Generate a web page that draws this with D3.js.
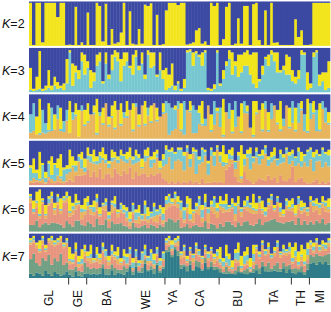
<!DOCTYPE html>
<html><head><meta charset="utf-8">
<script src="https://cdn.jsdelivr.net/npm/d3@7"></script>
<style>body{margin:0;background:#fff}svg{display:block}text{font-family:"Liberation Sans",Arial,Helvetica,sans-serif;fill:#111}</style>
</head><body>
<script>
// ---- data (percent membership per individual, 100 individuals) ----
const groups = ["GL","GE","BA","WE","YA","CA","BU","TA","TH","MI"];
const groupSizes = [13,6,13,13,5,13,12,12,6,7];
const kLabels = [2,3,4,5,6,7];
const clusterColors = {blue:"#3b49a2",yellow:"#f3e51d",cyan:"#77c7d1",orange:"#e8b45e",pink:"#e8957f",green:"#72a084",teal:"#2e7c89"};

const k2_yellow = [97,2,97,97,8,97,97,97,97,65,97,97,2, 3,2,88,2,8, 2,75,2,2,97,90,10,95,2,38,5,8,30, 97,2,78,5,3,38,5,93,90,96,2,70,2,4, 80,97,97,97,92, 97,97,3,5,8,35,40,5,10,2,97,90,97, 2,15,88,97,2,5,62,5,90,90,2,94, 97,13,2,80,2,97,7,8,2,2,2,2, 2,60,20,35,2,2, 3,97,97,97,97,97,97];

const k3_cyan = [5,3,5,8,3,5,10,5,15,8,10,5,20, 90,15,45,30,70,40, 55,10,25,60,70,20,65,30,50,80,70,25,60, 70,55,40,80,50,65,30,85,55,60,35,50,30, 5,10,15,5,20, 3,10,90,92,60,88,80,60,90,5,3,8,90, 15,30,60,75,40,60,35,45,60,60,40,20, 10,25,40,75,60,85,70,45,45,50,40,40, 25,20,30,85,85,5, 10,80,90,15,25,5,10];
const k3_yellow = [50,5,30,85,5,10,40,10,20,15,5,15,55, 5,50,15,20,20,45, 15,40,20,25,20,5,25,10,35,15,20,50,30, 20,5,45,15,10,25,10,10,35,30,5,40,20, 50,30,50,10,5, 5,20,5,5,30,5,5,30,5,5,5,10,5, 5,20,10,20,50,10,50,40,30,35,45,70, 80,5,20,5,25,10,20,45,5,10,45,40, 25,15,20,10,5,40, 10,10,5,25,20,40,60];

const k4_blue = [45,20,50,10,35,65,20,30,45,25,30,60,35, 15,40,20,35,25,35, 20,45,25,10,40,30,20,50,25,15,35,20,40, 15,35,20,20,45,25,15,30,25,20,30,50,20, 15,20,30,25,15, 20,15,35,15,25,35,25,15,55,25,45,15,30, 30,10,40,20,35,15,50,20,15,25,75,15, 15,35,20,15,40,20,25,35,15,55,25,30, 15,30,20,15,45,10, 20,15,35,20,15,30,40];
const k4_orange = [15,20,10,10,15,10,20,20,25,50,20,15,50, 15,50,60,5,75,35, 45,60,70,10,60,40,95,30,60,25,80,35,55, 55,75,20,85,35,90,35,60,45,95,50,60,70, 65,10,20,25,75, 20,10,80,70,15,15,40,35,35,90,20,35,75, 30,5,70,50,15,30,60,15,65,65,20,5, 65,80,20,75,20,50,95,40,20,35,90,30, 40,20,40,75,20,15, 50,65,20,20,75,45,40];
const k4_cyan = [45,70,0,5,55,20,5,60,0,35,5,25,30, 0,20,5,0,15,5, 5,0,5,5,10,5,0,5,5,5,0,5,15, 5,0,5,10,5,0,5,20,5,0,5,0,5, 30,80,60,50,20, 5,85,0,5,75,60,30,5,20,0,5,60,5, 50,5,0,40,5,65,0,5,30,5,0,5, 5,0,5,20,5,40,0,5,5,20,0,5, 55,5,50,5,45,5, 40,5,55,5,20,40,5];
const k4_yellow = [0,0,40,85,0,0,75,0,40,0,55,0,0, 80,0,30,60,0,40, 50,0,20,85,0,45,0,20,30,70,0,55,0, 40,0,70,0,30,0,60,0,45,0,35,0,25, 0,0,0,10,0, 70,0,0,25,0,0,20,60,0,0,45,0,10, 0,88,0,0,60,0,0,75,0,15,0,85, 30,0,70,0,50,0,0,35,75,0,0,55, 0,60,0,20,0,80, 0,30,0,70,0,0,30];

const k5_blue = [55,40,65,25,50,70,45,35,50,40,30,60,55, 20,35,45,30,25,40, 15,30,20,35,25,15,30,45,20,25,35,20,30, 25,15,35,20,30,40,20,15,35,25,20,45,30, 10,20,15,25,15, 15,25,10,30,15,20,35,15,20,45,15,25,10, 25,10,30,20,15,45,25,10,30,20,15,35, 15,30,20,10,35,25,15,40,20,30,15,25, 20,35,15,25,30,20, 15,25,20,30,15,25,20];
const k5_pink = [5,5,10,5,5,5,10,5,5,10,5,5,10, 15,10,30,20,25,35, 40,20,35,25,45,15,30,40,20,45,35,25,40, 30,45,20,35,25,40,30,20,35,25,30,45,20, 10,5,10,5,10, 5,10,5,15,5,10,5,15,5,10,5,10,5, 10,5,45,50,55,30,10,5,40,15,10,5, 10,20,15,10,30,15,20,10,25,15,10,20, 50,10,15,20,10,5, 5,10,15,5,10,5,10];
const k5_orange = [5,10,5,5,10,5,5,10,5,15,10,5,20, 20,40,15,30,20,10, 25,35,20,40,15,45,30,20,40,25,30,45,25, 30,20,45,25,40,20,30,45,20,35,40,15,35, 40,70,30,60,55, 55,30,70,40,75,20,60,40,70,30,65,45,80, 55,40,15,20,10,30,60,10,20,55,30,70, 60,40,55,65,30,50,45,60,30,55,70,40, 15,50,40,30,60,45, 60,30,45,70,35,60,40];
const k5_cyan = [30,10,20,5,35,15,25,10,40,20,5,30,15, 10,5,20,10,25,15, 10,15,5,10,20,5,10,15,10,5,10,10,15, 10,5,15,20,10,5,15,5,25,10,10,5,20, 35,15,45,20,25, 30,40,10,25,5,60,15,30,10,45,15,30,5, 20,10,5,15,10,25,15,5,20,10,40,15, 15,25,10,15,20,15,10,20,25,15,10,25, 20,25,30,15,20,40, 25,40,20,15,45,25,30];
const k5_yellow = [5,30,10,60,5,20,5,45,5,25,50,5,10, 50,25,15,5,20,30, 20,5,30,15,10,25,15,10,20,15,10,15,5, 20,25,10,15,10,30,15,20,10,20,10,25,15, 10,5,10,5,5, 5,10,5,15,10,5,10,5,5,10,5,10,5, 10,40,25,10,20,5,10,70,15,10,15,5, 10,5,15,5,10,15,20,5,10,10,5,10, 10,5,10,25,5,5, 5,15,10,5,5,5,15];

const k6_blue = [15,30,10,5,25,40,20,10,35,15,25,20,10, 20,35,15,30,40,25, 20,40,30,15,45,35,25,55,30,20,50,35,40, 45,55,35,50,40,60,30,45,55,35,50,40,45, 20,15,25,10,20, 30,45,20,25,50,35,20,40,15,45,30,20,35, 20,30,15,40,25,35,20,45,30,20,35,15, 35,20,30,45,25,15,40,20,35,50,25,30, 25,40,20,30,35,45, 20,30,25,35,20,30,25];
const k6_green = [15,20,25,10,20,30,15,20,25,15,20,10,25, 20,15,25,30,20,15, 25,20,15,30,25,20,35,15,25,20,30,25,20, 15,10,20,15,10,20,15,10,25,15,10,20,15, 25,30,35,20,30, 10,15,20,10,15,20,10,15,25,10,20,15,10, 20,15,25,30,20,15,25,20,30,25,20,15, 25,30,20,35,25,30,40,25,30,35,20,30, 30,25,35,20,30,25, 25,20,30,25,35,20,25];
const k6_pink = [50,35,30,20,55,15,40,45,25,35,30,60,45, 20,35,25,40,15,30, 30,25,35,20,30,45,25,30,20,35,25,30,40, 15,10,20,15,10,20,10,15,20,10,15,25,10, 30,25,40,35,30, 25,15,30,20,10,35,25,15,30,20,35,25,30, 35,40,25,30,45,20,35,30,40,25,35,30, 30,25,35,20,30,35,25,40,20,30,25,35, 25,30,20,35,25,30, 40,35,30,25,30,35,30];
const k6_orange = [10,5,10,5,5,10,5,10,15,5,10,5,10, 10,15,10,5,20,10, 10,15,10,20,5,10,15,10,20,10,15,10,5, 10,15,5,10,20,5,15,10,5,15,20,5,10, 15,10,5,15,10, 20,10,15,5,25,10,20,15,5,30,10,15,20, 10,15,5,10,5,20,10,15,5,10,15,10, 10,15,10,5,10,15,5,10,15,5,10,5, 10,5,15,10,10,15, 10,15,10,20,10,15,10];
const k6_cyan = [5,10,5,5,5,5,10,5,5,10,5,5,5, 5,10,5,5,10,5, 10,5,15,10,5,5,10,15,5,10,5,15,10, 20,10,15,25,10,15,20,10,15,25,10,15,20, 10,15,5,10,5, 20,30,10,15,5,10,15,25,10,15,5,20,10, 5,10,15,5,10,25,5,10,5,15,10,5, 5,10,5,15,5,10,5,10,15,5,10,5, 10,5,15,10,5,10, 5,10,5,10,5,10,5];
const k6_yellow = [5,25,20,55,5,30,5,10,15,5,30,5,10, 40,10,20,5,10,30, 15,5,20,10,25,5,10,15,5,20,10,5,15, 10,25,5,10,20,5,10,25,5,10,5,10,20, 10,5,10,5,15, 5,10,20,45,5,10,5,15,20,5,10,5,15, 20,10,25,5,15,10,20,5,15,10,5,35, 20,5,25,15,10,5,10,5,15,20,5,20, 15,30,5,20,10,5, 10,5,15,5,15,5,25];

const k7_blue = [10,5,20,15,5,25,10,5,15,10,5,20,10, 30,45,20,50,35,25, 40,25,55,30,45,20,35,50,25,40,30,55,35, 45,30,55,35,60,40,25,50,35,45,30,55,40, 10,5,15,10,5, 40,25,50,30,45,20,35,50,25,40,30,45,35, 30,55,25,45,60,35,20,50,40,30,55,25, 25,40,15,35,20,45,30,15,40,25,35,20, 30,20,40,25,35,20, 15,20,10,25,15,20,10];
const k7_teal = [10,5,15,10,5,20,10,5,15,10,5,10,15, 10,5,15,10,5,10, 15,10,20,10,15,25,10,15,20,10,15,20,10, 20,25,15,30,20,15,35,20,25,15,30,20,25, 55,60,50,65,45, 25,30,20,35,25,20,30,25,35,20,30,25,20, 15,20,10,15,20,10,15,20,15,10,20,15, 20,15,25,20,15,25,20,15,20,25,15,20, 15,10,20,15,10,20, 35,40,30,45,35,40,30];
const k7_green = [35,50,25,20,40,30,45,25,35,30,50,25,20, 15,25,10,20,15,25, 20,15,25,15,20,10,15,25,15,20,10,15,25, 10,5,15,10,5,15,10,5,10,15,5,10,5, 5,10,5,5,10, 10,5,15,10,5,10,15,5,10,5,15,10,5, 10,5,15,10,5,10,15,5,10,15,5,10, 15,20,10,15,20,10,15,20,10,15,20,10, 10,15,10,15,10,15, 20,15,25,15,20,15,25];
const k7_pink = [35,25,40,30,30,25,30,45,30,40,25,45,35, 15,20,25,15,20,15, 20,15,25,20,15,30,25,15,20,25,15,20,15, 10,15,10,5,15,10,5,15,10,5,15,10,15, 10,5,10,5,10, 15,20,10,15,25,10,15,20,10,15,20,10,15, 10,15,5,10,15,20,10,5,15,10,5,10, 30,35,25,30,20,35,25,30,35,20,30,25, 15,20,10,15,20,10, 15,10,15,10,15,10,15];
const k7_orange = [5,5,10,5,10,5,5,10,5,5,10,5,10, 10,5,10,15,5,10, 10,15,5,10,15,5,10,15,5,10,15,10,5, 5,10,5,10,5,10,5,10,5,10,5,10,5, 5,10,5,5,10, 10,15,5,10,15,10,5,15,10,5,10,15,10, 5,10,5,10,5,10,5,10,5,10,5,10, 10,5,10,5,10,5,10,5,10,5,10,5, 5,10,5,10,5,10, 10,5,10,5,10,5,10];
const k7_cyan = [5,5,0,5,5,5,0,5,5,5,0,5,5, 5,10,5,10,15,5, 5,10,5,10,5,10,15,5,10,5,10,5,10, 20,10,25,15,10,20,15,10,25,15,10,20,15, 5,5,10,5,5, 5,10,5,5,10,5,10,5,5,10,5,5,10, 10,20,15,25,10,15,20,10,25,15,10,20, 5,10,5,10,5,10,5,10,5,10,5,10, 10,15,10,5,10,15, 5,10,5,10,5,10,5];
const k7_yellow = [5,5,5,20,5,10,5,5,5,5,5,5,5, 35,20,15,25,30,10, 15,25,10,20,15,10,5,20,15,10,25,15,20, 10,5,20,5,10,5,10,5,10,20,5,10,5, 5,5,10,5,5, 5,5,10,5,5,5,5,5,5,5,5,10,5, 30,15,25,20,35,10,25,40,15,20,35,25, 5,10,5,5,10,5,10,5,5,10,5,10, 30,20,35,25,40,15, 5,10,5,5,10,5,5];

// stacking order bottom -> top for each K (blue on top)
const panels = [
  {k:2, keys:["yellow"], data:{yellow:k2_yellow}},
  {k:3, keys:["cyan","yellow"], data:{cyan:k3_cyan,yellow:k3_yellow}},
  {k:4, keys:["orange","cyan","yellow"], blue:k4_blue, data:{orange:k4_orange,cyan:k4_cyan,yellow:k4_yellow}},
  {k:5, keys:["pink","orange","cyan","yellow"], blue:k5_blue, data:{pink:k5_pink,orange:k5_orange,cyan:k5_cyan,yellow:k5_yellow}},
  {k:6, keys:["green","pink","orange","cyan","yellow"], blue:k6_blue, data:{green:k6_green,pink:k6_pink,orange:k6_orange,cyan:k6_cyan,yellow:k6_yellow}},
  {k:7, keys:["teal","green","pink","orange","cyan","yellow"], blue:k7_blue, data:{teal:k7_teal,green:k7_green,pink:k7_pink,orange:k7_orange,cyan:k7_cyan,yellow:k7_yellow}}
];

const W = 331, H = 312;
const N = d3.sum(groupSizes);
const svg = d3.select("body").append("svg").attr("width", W).attr("height", H);

const x = d3.scaleBand().domain(d3.range(N)).range([29, 330]).padding(0);
const xl = d3.scaleLinear().domain([0, N]).range([29, 330]);
const py = d3.scaleBand().domain(kLabels).range([1.5, 278]).paddingInner(0.045);

panels.forEach(p => {
  const rows = d3.range(N).map(i => {
    const r = {i};
    p.keys.forEach(k => { r[k] = p.data[k][i]; });
    const s = d3.sum(p.keys, k => r[k]);
    // non-blue share: given explicitly by blue list, or remainder
    const rest = p.blue ? 100 - p.blue[i] : Math.min(100, s);
    if (s > 0) p.keys.forEach(k => r[k] = r[k] * rest / s);
    r.blue = Math.max(0, 100 - d3.sum(p.keys, k => r[k]));
    return r;
  });
  const keys = [...p.keys, "blue"];
  const series = d3.stack().keys(keys)(rows);
  const y = d3.scaleLinear().domain([0, 100]).range([py(p.k) + py.bandwidth(), py(p.k)]);
  const g = svg.append("g");
  g.selectAll("g").data(series).join("g")
    .attr("fill", d => clusterColors[d.key])
    .selectAll("rect").data(d => d).join("rect")
      .attr("x", d => x(d.data.i))
      .attr("width", x.bandwidth() + 0.35)
      .attr("y", d => y(d[1]))
      .attr("height", d => Math.max(0, y(d[0]) - y(d[1])));
  const t = svg.append("text")
    .attr("x", 2).attr("y", py(p.k) + py.bandwidth() / 2)
    .attr("dy", "0.38em").attr("font-size", 12.5);
  t.append("tspan").attr("font-style", "italic").text("K");
  t.append("tspan").text("=" + p.k);
});

// group boundaries and labels
const cum = d3.cumsum(groupSizes);
const bounds = Array.from(cum).slice(0, -1);
const axis = d3.axisBottom(xl).tickValues(bounds).tickSize(7).tickFormat("");
const ag = svg.append("g").attr("transform", "translate(0,277.5)").call(axis);
ag.select(".domain").remove();
ag.selectAll(".tick line").attr("stroke", "#333").attr("stroke-width", 1);

const starts = [0, ...bounds];
svg.append("g").selectAll("text").data(groups).join("text")
  .attr("transform", (d, i) => `translate(${xl(starts[i] + groupSizes[i] / 2) + 0.5},290) rotate(-90)`)
  .attr("text-anchor", "end").attr("dy", "0.36em")
  .attr("font-size", 12)
  .text(d => d);
</script>
</body></html>
